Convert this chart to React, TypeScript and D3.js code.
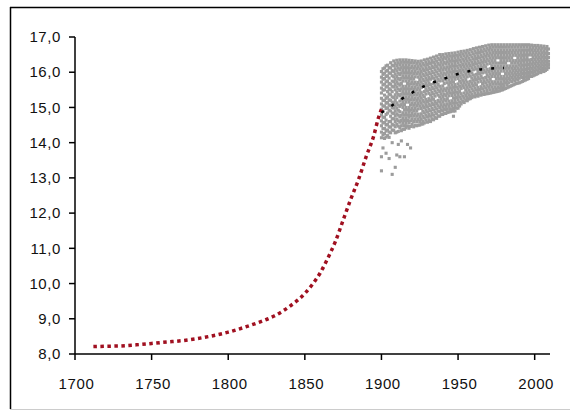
import React from "react";
import * as d3 from "d3";

const yTicks = [8, 9, 10, 11, 12, 13, 14, 15, 16, 17];
const xTicks = [1700, 1750, 1800, 1850, 1900, 1950, 2000];

// red dotted model curve (year, value)
const redYears = [1712, 1720, 1730, 1740, 1750, 1760, 1770, 1780, 1790, 1800, 1810, 1820, 1830, 1840, 1850, 1855, 1860, 1865, 1870, 1875, 1880, 1885, 1890, 1895, 1898, 1900];
const redValues = [8.21, 8.22, 8.23, 8.26, 8.3, 8.34, 8.38, 8.44, 8.52, 8.62, 8.75, 8.9, 9.08, 9.35, 9.72, 9.98, 10.3, 10.72, 11.2, 11.8, 12.4, 12.95, 13.6, 14.2, 14.7, 14.95];

// black trend line
const blackYears = [1900, 1905, 1910, 1920, 1930, 1940, 1950, 1960, 1970, 1980];
const blackValues = [14.85, 15.0, 15.15, 15.42, 15.65, 15.8, 15.95, 16.05, 16.1, 16.12];

// gray scatter: [year, ...values]
const grayRows: number[][] = [
  [1900, 16.02, 15.86, 15.72, 15.55, 15.41, 15.26, 15.1, 14.95, 14.79, 14.62, 14.48, 14.3, 14.14, 13.6, 13.2],
  [1901, 16.1, 15.94, 15.8, 15.64, 15.49, 15.2, 15.04, 14.9, 14.72, 14.56, 14.4, 14.22, 13.85],
  [1902, 16.12, 15.97, 15.82, 15.66, 15.5, 15.35, 15.2, 15.04, 14.72, 14.57, 14.4, 14.26, 14.12],
  [1903, 16.18, 16.03, 15.88, 15.73, 15.58, 15.26, 15.12, 14.97, 14.8, 14.64, 14.5, 14.33, 14.16, 13.7],
  [1904, 16.2, 16.05, 15.9, 15.75, 15.6, 15.45, 15.3, 15.14, 14.99, 14.84, 14.52, 14.36, 14.2],
  [1905, 16.13, 15.98, 15.83, 15.68, 15.53, 15.38, 15.22, 15.07, 14.92, 14.6, 14.45, 14.3, 14.15, 13.55],
  [1906, 16.27, 16.12, 15.97, 15.66, 15.5, 15.36, 15.2, 15.05, 14.9, 14.75, 14.6, 14.44, 14.28],
  [1907, 16.2, 16.05, 15.9, 15.75, 15.6, 15.45, 15.3, 15.15, 15.0, 14.84, 14.68, 14.52, 14.36, 14.0, 13.1],
  [1908, 16.32, 16.18, 16.02, 15.87, 15.73, 15.58, 15.28, 15.13, 14.98, 14.83, 14.68, 14.5, 14.35],
  [1909, 16.25, 16.1, 15.95, 15.8, 15.65, 15.5, 15.36, 15.2, 15.05, 14.9, 14.76, 14.6, 14.45, 14.28, 13.3],
  [1910, 16.34, 16.19, 16.04, 15.88, 15.73, 15.58, 15.43, 15.28, 15.13, 14.98, 14.82, 14.67, 14.52, 14.3, 13.65],
  [1911, 16.27, 16.12, 15.97, 15.82, 15.67, 15.52, 15.37, 15.07, 14.92, 14.78, 14.62, 14.47, 14.32, 13.95],
  [1912, 16.35, 16.21, 16.07, 15.93, 15.78, 15.63, 15.48, 15.33, 15.18, 15.03, 14.88, 14.73, 14.58, 14.42, 13.6],
  [1913, 16.28, 16.13, 15.98, 15.83, 15.68, 15.53, 15.38, 15.23, 15.08, 14.78, 14.63, 14.48, 14.34, 14.05],
  [1914, 16.35, 16.2, 16.05, 15.9, 15.75, 15.6, 15.45, 15.3, 15.15, 15.0, 14.85, 14.7, 14.55, 14.38],
  [1915, 16.28, 16.13, 15.98, 15.83, 15.53, 15.38, 15.23, 15.08, 14.93, 14.78, 14.63, 14.48, 14.38, 13.6],
  [1916, 16.35, 16.2, 16.05, 15.9, 15.75, 15.6, 15.45, 15.3, 15.15, 15.0, 14.85, 14.7, 14.55, 14.42],
  [1917, 16.28, 16.13, 15.98, 15.83, 15.68, 15.53, 15.38, 15.23, 14.93, 14.78, 14.63, 14.47, 13.95],
  [1918, 16.34, 16.2, 16.05, 15.9, 15.75, 15.6, 15.45, 15.3, 15.15, 15.0, 14.86, 14.72, 14.56, 14.41],
  [1919, 16.27, 16.12, 15.97, 15.82, 15.67, 15.52, 15.37, 15.22, 15.07, 14.92, 14.77, 14.62, 14.46, 13.85],
  [1920, 16.33, 16.18, 16.03, 15.88, 15.73, 15.58, 15.28, 15.13, 14.98, 14.83, 14.68, 14.52],
  [1921, 16.26, 16.11, 15.96, 15.81, 15.66, 15.51, 15.36, 15.21, 15.06, 14.91, 14.76, 14.6, 14.45],
  [1922, 16.32, 16.17, 16.02, 15.87, 15.72, 15.57, 15.42, 15.27, 15.12, 14.97, 14.82, 14.67, 14.5],
  [1923, 16.25, 16.1, 15.95, 15.65, 15.5, 15.35, 15.2, 15.05, 14.9, 14.75, 14.6, 14.48],
  [1924, 16.31, 16.16, 16.01, 15.86, 15.71, 15.56, 15.41, 15.26, 15.11, 14.96, 14.81, 14.66, 14.5],
  [1925, 16.24, 16.09, 15.94, 15.79, 15.64, 15.49, 15.34, 15.19, 15.04, 14.74, 14.6, 14.5],
  [1926, 16.32, 16.17, 16.02, 15.87, 15.72, 15.57, 15.42, 15.27, 15.12, 14.97, 14.82, 14.67, 14.53],
  [1927, 16.25, 16.1, 15.95, 15.8, 15.65, 15.35, 15.2, 15.05, 14.9, 14.75, 14.6, 14.53],
  [1928, 16.35, 16.2, 16.05, 15.9, 15.75, 15.6, 15.45, 15.3, 15.15, 15.0, 14.85, 14.7, 14.56],
  [1929, 16.28, 16.13, 15.98, 15.83, 15.68, 15.53, 15.38, 15.23, 15.08, 14.93, 14.78, 14.64],
  [1930, 16.37, 16.22, 16.07, 15.92, 15.77, 15.62, 15.47, 15.17, 15.02, 14.87, 14.73, 14.58],
  [1931, 16.3, 16.15, 16.0, 15.85, 15.7, 15.55, 15.4, 15.25, 15.1, 14.95, 14.8, 14.65],
  [1932, 16.4, 16.25, 16.1, 15.95, 15.8, 15.65, 15.5, 15.35, 15.2, 15.05, 14.9, 14.75, 14.6],
  [1933, 16.33, 16.18, 16.03, 15.88, 15.58, 15.43, 15.28, 15.13, 14.98, 14.83, 14.68],
  [1934, 16.43, 16.28, 16.13, 15.98, 15.83, 15.68, 15.53, 15.38, 15.23, 15.08, 14.93, 14.78, 14.65],
  [1935, 16.37, 16.22, 16.07, 15.92, 15.77, 15.62, 15.47, 15.32, 15.17, 15.02, 14.87, 14.72],
  [1936, 16.46, 16.31, 16.16, 16.01, 15.86, 15.71, 15.56, 15.41, 15.11, 14.96, 14.82, 14.69],
  [1937, 16.4, 16.25, 16.1, 15.95, 15.8, 15.65, 15.5, 15.35, 15.2, 15.05, 14.9, 14.76],
  [1938, 16.5, 16.35, 16.2, 16.05, 15.9, 15.75, 15.6, 15.45, 15.3, 15.15, 15.0, 14.88, 14.75],
  [1939, 16.43, 16.28, 16.13, 15.98, 15.83, 15.53, 15.38, 15.23, 15.08, 14.93, 14.8],
  [1940, 16.5, 16.36, 16.21, 16.06, 15.91, 15.76, 15.61, 15.46, 15.31, 15.16, 15.01, 14.9, 14.8],
  [1941, 16.43, 16.28, 16.13, 15.98, 15.83, 15.68, 15.53, 15.38, 15.23, 15.08, 14.95, 14.83],
  [1942, 16.52, 16.38, 16.23, 16.08, 15.93, 15.78, 15.48, 15.33, 15.18, 15.03, 14.93, 14.83],
  [1943, 16.45, 16.3, 16.15, 16.0, 15.85, 15.7, 15.55, 15.4, 15.25, 15.1, 14.95, 14.86],
  [1944, 16.53, 16.38, 16.23, 16.08, 15.93, 15.78, 15.63, 15.48, 15.33, 15.18, 15.03, 14.87],
  [1945, 16.46, 16.31, 16.16, 16.01, 15.86, 15.71, 15.56, 15.41, 15.11, 14.96, 14.88],
  [1946, 16.54, 16.39, 16.24, 16.09, 15.94, 15.79, 15.64, 15.49, 15.34, 15.19, 15.04, 14.9],
  [1947, 16.47, 16.32, 16.17, 16.02, 15.87, 15.72, 15.57, 15.42, 15.27, 15.12, 14.97, 14.9, 14.75],
  [1948, 16.55, 16.4, 16.25, 16.1, 15.95, 15.8, 15.65, 15.5, 15.35, 15.2, 15.05, 14.9],
  [1949, 16.48, 16.33, 16.18, 16.03, 15.88, 15.58, 15.43, 15.28, 15.13, 14.98],
  [1950, 16.57, 16.42, 16.27, 16.12, 15.97, 15.82, 15.67, 15.52, 15.37, 15.22, 15.07, 14.98],
  [1951, 16.5, 16.35, 16.2, 16.05, 15.9, 15.75, 15.6, 15.45, 15.3, 15.15, 15.04],
  [1952, 16.59, 16.44, 16.29, 16.14, 15.99, 15.84, 15.69, 15.54, 15.39, 15.24, 15.1],
  [1953, 16.52, 16.37, 16.22, 16.07, 15.92, 15.77, 15.62, 15.32, 15.17],
  [1954, 16.6, 16.46, 16.31, 16.16, 16.01, 15.86, 15.71, 15.56, 15.41, 15.26, 15.14],
  [1955, 16.54, 16.39, 16.24, 16.09, 15.94, 15.79, 15.64, 15.49, 15.34, 15.2],
  [1956, 16.62, 16.47, 16.32, 16.17, 16.02, 15.87, 15.72, 15.57, 15.42, 15.28, 15.19],
  [1957, 16.55, 16.4, 16.25, 16.1, 15.95, 15.65, 15.5, 15.36, 15.24],
  [1958, 16.64, 16.49, 16.34, 16.19, 16.04, 15.89, 15.74, 15.59, 15.44, 15.32, 15.25],
  [1959, 16.58, 16.43, 16.28, 16.13, 15.98, 15.83, 15.68, 15.53, 15.38, 15.28],
  [1960, 16.67, 16.52, 16.37, 16.22, 16.07, 15.92, 15.77, 15.62, 15.47, 15.32],
  [1961, 16.6, 16.45, 16.3, 16.15, 15.85, 15.7, 15.55, 15.4, 15.3],
  [1962, 16.69, 16.54, 16.39, 16.24, 16.09, 15.94, 15.79, 15.64, 15.49, 15.34],
  [1963, 16.62, 16.47, 16.32, 16.17, 16.02, 15.87, 15.72, 15.57, 15.42, 15.32],
  [1964, 16.71, 16.56, 16.41, 16.26, 16.11, 15.96, 15.81, 15.51, 15.36],
  [1965, 16.64, 16.49, 16.34, 16.19, 16.04, 15.89, 15.74, 15.59, 15.44, 15.35],
  [1966, 16.73, 16.58, 16.43, 16.28, 16.13, 15.98, 15.83, 15.68, 15.53, 15.38],
  [1967, 16.66, 16.51, 16.36, 16.21, 16.06, 15.76, 15.61, 15.46, 15.37],
  [1968, 16.75, 16.6, 16.45, 16.3, 16.15, 16.0, 15.85, 15.7, 15.55, 15.39],
  [1969, 16.68, 16.53, 16.38, 16.23, 16.08, 15.93, 15.78, 15.63, 15.48, 15.39],
  [1970, 16.77, 16.62, 16.47, 16.32, 16.02, 15.87, 15.72, 15.57, 15.4],
  [1971, 16.7, 16.55, 16.4, 16.25, 16.1, 15.95, 15.8, 15.65, 15.5, 15.41],
  [1972, 16.78, 16.63, 16.48, 16.33, 16.18, 16.03, 15.88, 15.73, 15.58, 15.42],
  [1973, 16.71, 16.56, 16.41, 16.26, 16.11, 15.96, 15.66, 15.51, 15.43],
  [1974, 16.78, 16.63, 16.48, 16.33, 16.18, 16.03, 15.88, 15.73, 15.58, 15.44],
  [1975, 16.71, 16.56, 16.41, 16.26, 16.11, 15.96, 15.81, 15.66, 15.52, 15.45],
  [1976, 16.78, 16.63, 16.48, 16.18, 16.03, 15.88, 15.73, 15.58, 15.46],
  [1977, 16.71, 16.56, 16.41, 16.26, 16.11, 15.96, 15.81, 15.66, 15.55, 15.47],
  [1978, 16.78, 16.63, 16.48, 16.33, 16.18, 16.03, 15.88, 15.73, 15.6, 15.49],
  [1979, 16.71, 16.56, 16.41, 16.26, 16.11, 15.81, 15.66, 15.56, 15.5],
  [1980, 16.78, 16.63, 16.48, 16.33, 16.18, 16.03, 15.88, 15.74, 15.62, 15.52],
  [1981, 16.71, 16.56, 16.41, 16.26, 16.11, 15.96, 15.81, 15.7, 15.54],
  [1982, 16.78, 16.63, 16.48, 16.33, 16.18, 16.03, 15.88, 15.76, 15.65, 15.56],
  [1983, 16.71, 16.56, 16.41, 16.11, 15.96, 15.82, 15.7, 15.58],
  [1984, 16.78, 16.63, 16.48, 16.33, 16.18, 16.03, 15.9, 15.78, 15.6],
  [1985, 16.71, 16.56, 16.41, 16.26, 16.11, 15.97, 15.85, 15.73, 15.62],
  [1986, 16.78, 16.63, 16.48, 16.33, 16.18, 16.05, 15.92, 15.8, 15.64],
  [1987, 16.71, 16.56, 16.26, 16.11, 15.98, 15.86, 15.75, 15.66],
  [1988, 16.78, 16.63, 16.48, 16.33, 16.18, 16.05, 15.93, 15.81, 15.68],
  [1989, 16.71, 16.56, 16.41, 16.26, 16.12, 15.99, 15.88, 15.78, 15.69],
  [1990, 16.78, 16.63, 16.48, 16.33, 16.2, 16.06, 15.94, 15.83, 15.7],
  [1991, 16.71, 16.56, 16.41, 16.27, 16.13, 16.0, 15.89, 15.72],
  [1992, 16.78, 16.63, 16.48, 16.34, 16.2, 16.07, 15.96, 15.85, 15.74],
  [1993, 16.71, 16.56, 16.42, 16.28, 16.14, 16.01, 15.91, 15.82, 15.76],
  [1994, 16.78, 16.63, 16.49, 16.35, 16.21, 16.08, 15.97, 15.87, 15.78],
  [1995, 16.71, 16.56, 16.42, 16.28, 16.15, 16.03, 15.93, 15.8],
  [1996, 16.78, 16.63, 16.49, 16.35, 16.22, 16.1, 15.99, 15.9, 15.82],
  [1997, 16.7, 16.56, 16.29, 16.16, 16.04, 15.95, 15.88],
  [1998, 16.77, 16.63, 16.49, 16.36, 16.23, 16.11, 16.0, 15.88],
  [1999, 16.7, 16.56, 16.42, 16.29, 16.17, 16.06, 15.97, 15.9],
  [2000, 16.76, 16.62, 16.49, 16.36, 16.24, 16.12, 16.02, 15.92],
  [2001, 16.7, 16.56, 16.43, 16.3, 16.18, 16.07, 15.94],
  [2002, 16.76, 16.62, 16.49, 16.37, 16.25, 16.14, 16.04, 15.96],
  [2003, 16.69, 16.55, 16.42, 16.31, 16.2, 16.1, 16.0],
  [2004, 16.75, 16.62, 16.49, 16.37, 16.26, 16.15, 16.06, 15.99],
  [2005, 16.68, 16.55, 16.43, 16.31, 16.21, 16.11, 16.03],
  [2006, 16.74, 16.6, 16.48, 16.37, 16.26, 16.16, 16.08, 16.02],
  [2007, 16.67, 16.54, 16.42, 16.31, 16.21, 16.12, 16.05],
  [2008, 16.73, 16.6, 16.48, 16.37, 16.27, 16.18, 16.08],
  [2009, 16.66, 16.53, 16.42, 16.31, 16.22, 16.13],
];

const W = 570;
const H = 412;

export default function App() {
  const x = d3.scaleLinear().domain([1700, 2010]).range([75, 550]);
  const y = d3.scaleLinear().domain([8, 17]).range([354, 37]);
  const line = d3
    .line<[number, number]>()
    .x((d) => x(d[0]))
    .y((d) => y(d[1]))
    .curve(d3.curveMonotoneX);
  const redPts: [number, number][] = redYears.map((yr, i) => [yr, redValues[i]]);
  const blackPts: [number, number][] = blackYears.map((yr, i) => [yr, blackValues[i]]);
  const grayPts: [number, number][] = [];
  grayRows.forEach((row) => {
    for (let i = 1; i < row.length; i++) grayPts.push([row[0], row[i]]);
  });
  const font = "Arial, 'Liberation Sans', sans-serif";
  const sq = 3.1;
  return (
    <svg
      width={W}
      height={H}
      style={{ position: "absolute", left: 0, top: 0, background: "#fff" }}
    >
      {/* frame */}
      <line x1={10} y1={7.5} x2={W} y2={7.5} stroke="#000" strokeWidth={1.5} />
      <line x1={10.5} y1={7} x2={10.5} y2={409} stroke="#000" strokeWidth={1.5} />
      <line x1={10} y1={409.5} x2={W} y2={409.5} stroke="#ccc" strokeWidth={1} />

      {/* gray scatter */}
      <g fill="#9c9c9c">
        {grayPts.map((d, i) => (
          <rect key={i} x={x(d[0]) - sq / 2} y={y(d[1]) - sq / 2} width={sq} height={sq} />
        ))}
      </g>

      {/* red model */}
      <path
        d={line(redPts) || ""}
        fill="none"
        stroke="#a01020"
        strokeWidth={3.5}
        strokeDasharray="3.5 3.5"
      />
      {/* black trend */}
      <path
        d={line(blackPts) || ""}
        fill="none"
        stroke="#000"
        strokeWidth={2.5}
        strokeDasharray="3 9"
      />

      {/* axes */}
      <line x1={75} y1={y(17)} x2={75} y2={y(8)} stroke="#000" strokeWidth={1.5} />
      <line x1={75} y1={y(8)} x2={x(2010)} y2={y(8)} stroke="#000" strokeWidth={1.5} />
      {yTicks.map((t) => (
        <g key={"y" + t}>
          <line x1={69} x2={75} y1={y(t)} y2={y(t)} stroke="#000" strokeWidth={1.5} />
          <text
            x={61}
            y={y(t)}
            dy="0.35em"
            textAnchor="end"
            fontFamily={font}
            fontSize={15}
            letterSpacing={0.6}
            fill="#111"
          >
            {t.toFixed(1).replace(".", ",")}
          </text>
        </g>
      ))}
      {xTicks.map((t) => (
        <g key={"x" + t}>
          <line x1={x(t)} x2={x(t)} y1={y(8)} y2={y(8) + 6} stroke="#000" strokeWidth={1.5} />
          <text
            x={x(t) + 1.5}
            y={389}
            textAnchor="middle"
            fontFamily={font}
            fontSize={15}
            letterSpacing={0.6}
            fill="#111"
          >
            {t}
          </text>
        </g>
      ))}
    </svg>
  );
}
